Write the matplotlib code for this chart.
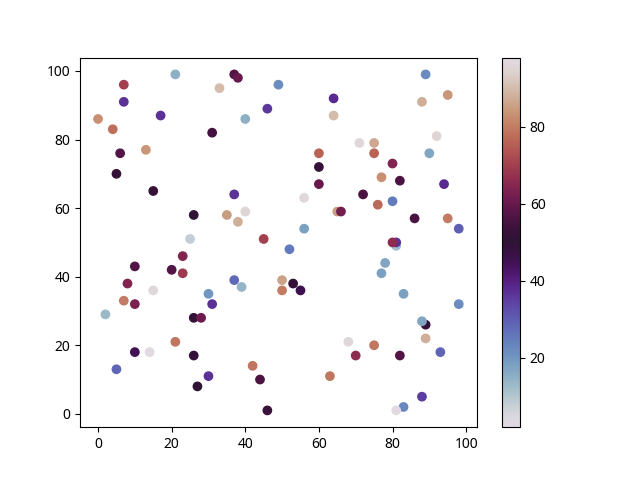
import matplotlib
matplotlib.use("Agg")
import matplotlib.pyplot as plt

plt.rcParams['font.family'] = ['Noto Sans', 'DejaVu Sans']

# points: x, y and colour value
x = [21, 7, 37, 38, 33, 49, 7, 46, 17, 0, 40, 4, 31, 13, 6, 5, 15, 37, 26, 35,
     40, 38, 25, 45,
     89, 95, 88, 64, 64, 92, 71, 75, 90, 60, 75, 80, 60, 77, 82, 60, 94, 72, 56,
     76, 80, 65, 66, 86, 95, 98, 56, 81, 81, 80, 52,
     23, 10, 20, 23, 8, 15, 37, 39, 50, 50, 7, 10, 2, 30, 31, 26, 28, 21, 10, 14,
     26, 5, 30, 27, 42, 44, 46,
     78, 77, 53, 55, 83, 98, 89, 88, 89, 68, 75, 70, 82, 93, 63, 88, 83, 81]
y = [99, 96, 99, 98, 95, 96, 91, 89, 87, 86, 86, 83, 82, 77, 76, 70, 65, 64, 58, 58,
     59, 56, 51, 51,
     99, 93, 91, 92, 87, 81, 79, 79, 76, 76, 76, 73, 72, 69, 68, 67, 67, 64, 63,
     61, 62, 59, 59, 57, 57, 54, 54, 49, 50, 50, 48,
     46, 43, 42, 41, 38, 36, 39, 37, 39, 36, 33, 32, 29, 35, 32, 28, 28, 21, 18, 18,
     17, 13, 11, 8, 14, 10, 1,
     44, 41, 38, 36, 35, 32, 26, 27, 22, 21, 20, 17, 17, 18, 11, 5, 2, 1]
c = [15, 70, 57, 60, 90, 22, 37, 36, 37, 83, 15, 78, 55, 84, 57, 52, 52, 37, 50, 85,
     95, 88, 8, 70,
     22, 84, 88, 38, 90, 95, 96, 87, 17, 76, 76, 64, 52, 83, 56, 60, 38, 56, 96,
     77, 25, 85, 62, 56, 80, 30, 18, 12, 37, 66, 25,
     64, 57, 57, 69, 64, 96, 28, 14, 86, 80, 80, 63, 13, 20, 37, 51, 61, 79, 45, 98,
     51, 29, 37, 50, 79, 56, 53,
     17, 18, 51, 46, 18, 22, 51, 17, 88, 96, 79, 66, 57, 29, 79, 35, 23, 2]

fig, ax = plt.subplots(figsize=(6.4, 4.8), dpi=100)
sc = ax.scatter(x, y, c=c, cmap='twilight')
fig.colorbar(sc, ax=ax)
fig.savefig("out.png")
